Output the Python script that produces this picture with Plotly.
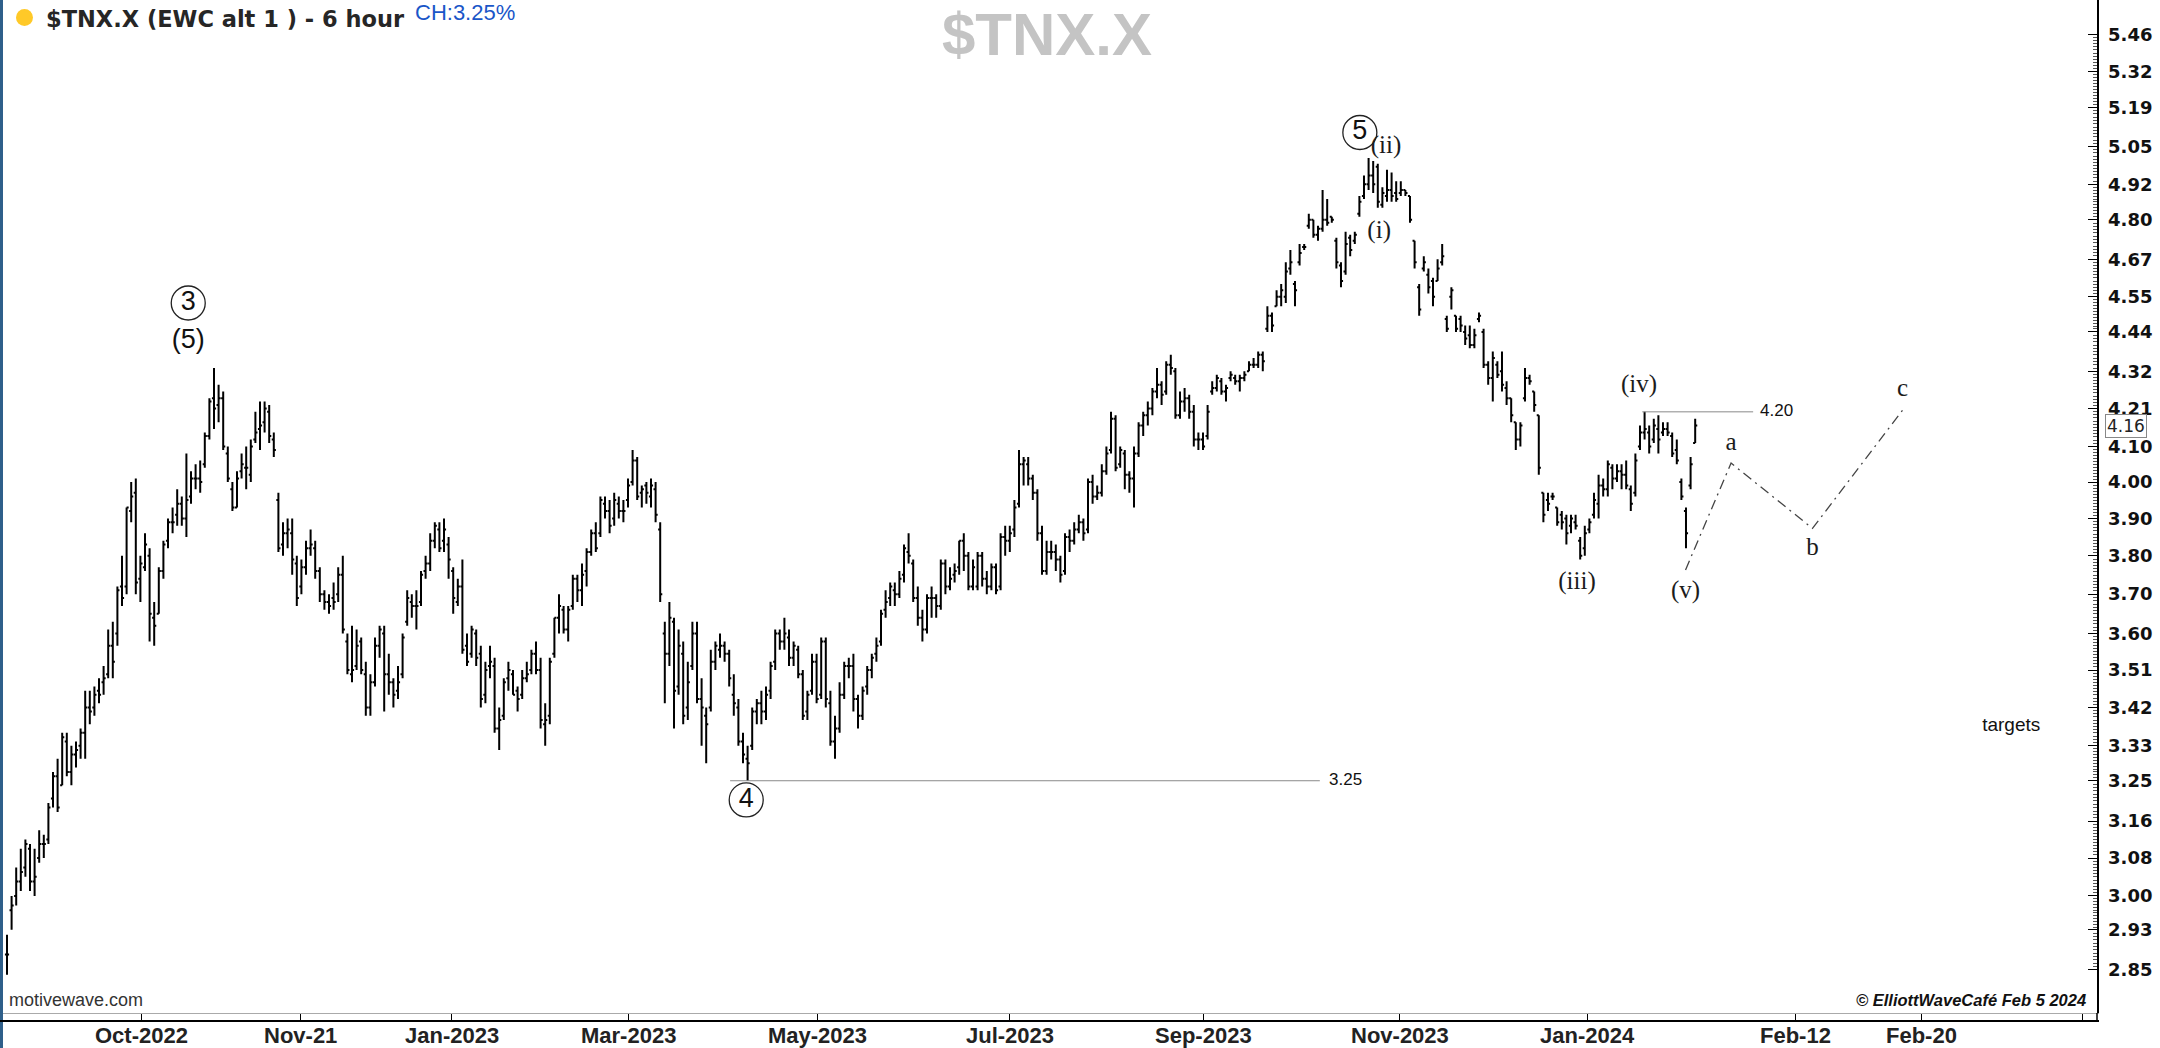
import math
import plotly.graph_objects as go

# ---------------- OHLC data (6-hour bars of $TNX.X) ----------------
opens = [
    2.88, 2.97, 3.00, 3.03, 3.06, 3.10, 3.03, 3.08, 3.11, 3.12,  # Aug-22
    3.21, 3.26, 3.24, 3.34, 3.27, 3.31, 3.33, 3.36, 3.42, 3.42, 3.46, 3.48, 3.50, 3.57, 3.60, 3.72, 3.72, 3.92, 3.97, 3.74, 3.77,  # Sep-22
    3.80, 3.64, 3.65, 3.76, 3.84, 3.89, 3.91, 3.94, 3.90, 3.96, 4.01, 4.01, 4.05, 4.13, 4.24, 4.22, 4.24, 4.08, 3.98, 3.93, 4.03,  # Oct-22
    4.04, 4.02, 4.12, 4.15, 4.17, 4.20, 4.12, 3.95, 3.83, 3.86, 3.86, 3.78, 3.72, 3.77, 3.82, 3.82, 3.76, 3.70, 3.68, 3.69, 3.70, 3.75,  # Nov-22
    3.58, 3.50, 3.52, 3.58, 3.50, 3.42, 3.48, 3.57, 3.60, 3.50, 3.48, 3.46, 3.50, 3.63, 3.68, 3.67, 3.68, 3.76, 3.78, 3.84, 3.87, 3.84,  # Dec-22
    3.83, 3.76, 3.68, 3.72, 3.57, 3.55, 3.60, 3.55, 3.45, 3.52, 3.52, 3.37, 3.40, 3.49, 3.50, 3.46, 3.45, 3.49, 3.51, 3.55,  # Jan-23
    3.51, 3.38, 3.40, 3.55, 3.64, 3.66, 3.61, 3.67, 3.74, 3.71, 3.76, 3.81, 3.86, 3.86, 3.94, 3.92, 3.90, 3.94, 3.92,  # Feb-23
    3.95, 4.00, 4.06, 3.97, 3.99, 3.96, 3.98, 3.87, 3.60, 3.55, 3.63, 3.47, 3.55, 3.42, 3.52, 3.60, 3.44, 3.40, 3.42, 3.53, 3.56, 3.57, 3.55,  # Mar-23
    3.45, 3.42, 3.34, 3.30, 3.33, 3.41, 3.43, 3.41, 3.46, 3.53, 3.60, 3.58, 3.59, 3.54, 3.56, 3.50, 3.41, 3.46, 3.53,  # Apr-23
    3.45, 3.58, 3.43, 3.34, 3.37, 3.45, 3.52, 3.52, 3.44, 3.40, 3.47, 3.51, 3.55, 3.58, 3.66, 3.69, 3.71, 3.70, 3.75, 3.81, 3.78, 3.69,  # May-23
    3.64, 3.61, 3.69, 3.69, 3.67, 3.78, 3.72, 3.75, 3.77, 3.84, 3.80, 3.72, 3.72, 3.80, 3.74, 3.72, 3.77, 3.72, 3.85,  # Jun-23
    3.84, 3.87, 3.94, 4.05, 4.05, 4.01, 3.97, 3.86, 3.76, 3.81, 3.81, 3.79, 3.76, 3.85, 3.84, 3.87, 3.89, 3.87, 4.00, 3.96,  # Jul-23
    3.97, 4.03, 4.09, 4.18, 4.05, 4.08, 4.02, 4.01, 4.08, 4.16, 4.19, 4.21, 4.26, 4.28, 4.26, 4.34, 4.32, 4.19, 4.23, 4.24, 4.20, 4.12, 4.12,  # Aug-23
    4.13, 4.26, 4.27, 4.29, 4.26, 4.30, 4.30, 4.29, 4.30, 4.32, 4.34, 4.34, 4.37, 4.45, 4.49, 4.52, 4.55, 4.55, 4.64, 4.59,  # Sep-23
    4.66, 4.71, 4.78, 4.80, 4.75, 4.77, 4.80, 4.81, 4.73, 4.65, 4.63, 4.74, 4.73, 4.82, 4.88, 4.92, 4.95, 4.98, 4.85, 4.88, 4.90, 4.89,  # Oct-23
    4.89, 4.90, 4.88, 4.73, 4.58, 4.64, 4.62, 4.60, 4.60, 4.66, 4.48, 4.55, 4.49, 4.48, 4.44, 4.43, 4.40, 4.48, 4.44, 4.34, 4.30,  # Nov-23
    4.34, 4.32, 4.27, 4.24, 4.17, 4.12, 4.24, 4.30, 4.26, 4.19, 3.97, 3.95, 3.96, 3.93, 3.91, 3.90, 3.88, 3.89, 3.84, 3.82,  # Dec-23
    3.87, 3.91, 3.94, 3.99, 3.98, 4.04, 4.01, 4.03, 4.02, 3.98, 3.97, 4.10, 4.14, 4.14, 4.12, 4.15, 4.14, 4.15, 4.13, 4.09, 4.00,  # Jan-24
    3.92, 3.99, 4.11,  # Feb-24
]
highs = [
    2.92, 3.00, 3.06, 3.10, 3.12, 3.11, 3.10, 3.14, 3.13, 3.20,
    3.27, 3.30, 3.36, 3.36, 3.33, 3.34, 3.37, 3.46, 3.46, 3.47, 3.49, 3.52, 3.61, 3.63, 3.72, 3.80, 3.93, 4.00, 4.01, 3.80, 3.86,
    3.82, 3.68, 3.77, 3.84, 3.90, 3.93, 3.98, 3.96, 4.08, 4.03, 4.05, 4.06, 4.14, 4.24, 4.33, 4.28, 4.26, 4.10, 4.00, 4.03, 4.08,
    4.10, 4.12, 4.20, 4.23, 4.23, 4.22, 4.14, 3.97, 3.89, 3.90, 3.90, 3.80, 3.79, 3.84, 3.87, 3.84, 3.77, 3.71, 3.70, 3.73, 3.77, 3.80,
    3.60, 3.62, 3.61, 3.59, 3.53, 3.50, 3.59, 3.62, 3.62, 3.55, 3.49, 3.52, 3.60, 3.71, 3.70, 3.71, 3.76, 3.80, 3.86, 3.89, 3.89, 3.90,
    3.85, 3.77, 3.74, 3.79, 3.60, 3.62, 3.61, 3.57, 3.53, 3.57, 3.54, 3.42, 3.49, 3.53, 3.51, 3.47, 3.51, 3.53, 3.56, 3.58,
    3.54, 3.43, 3.54, 3.64, 3.70, 3.67, 3.67, 3.75, 3.75, 3.78, 3.82, 3.87, 3.89, 3.96, 3.96, 3.95, 3.97, 3.96, 3.95,
    4.01, 4.09, 4.07, 3.99, 4.00, 4.01, 4.00, 3.89, 3.63, 3.68, 3.64, 3.61, 3.58, 3.53, 3.63, 3.63, 3.49, 3.42, 3.56, 3.58, 3.60, 3.58, 3.56,
    3.50, 3.44, 3.36, 3.33, 3.42, 3.44, 3.46, 3.47, 3.53, 3.61, 3.61, 3.64, 3.61, 3.58, 3.57, 3.51, 3.46, 3.55, 3.55,
    3.59, 3.59, 3.46, 3.40, 3.48, 3.53, 3.54, 3.55, 3.45, 3.47, 3.52, 3.55, 3.59, 3.66, 3.71, 3.73, 3.73, 3.76, 3.83, 3.86, 3.79, 3.72,
    3.66, 3.70, 3.72, 3.70, 3.79, 3.79, 3.77, 3.78, 3.84, 3.86, 3.81, 3.79, 3.81, 3.81, 3.76, 3.78, 3.78, 3.86, 3.88,
    3.88, 3.95, 4.09, 4.07, 4.07, 4.02, 3.98, 3.88, 3.84, 3.84, 3.83, 3.80, 3.86, 3.87, 3.89, 3.91, 3.90, 4.01, 4.02, 3.99,
    4.05, 4.10, 4.20, 4.19, 4.10, 4.09, 4.03, 4.10, 4.17, 4.20, 4.23, 4.27, 4.33, 4.29, 4.35, 4.37, 4.33, 4.26, 4.27, 4.25, 4.22, 4.14, 4.14,
    4.22, 4.29, 4.31, 4.30, 4.28, 4.32, 4.31, 4.31, 4.32, 4.35, 4.36, 4.38, 4.38, 4.52, 4.50, 4.57, 4.59, 4.66, 4.70, 4.60,
    4.72, 4.72, 4.82, 4.80, 4.78, 4.90, 4.87, 4.81, 4.74, 4.66, 4.76, 4.75, 4.76, 4.88, 4.95, 5.01, 5.00, 4.99, 4.91, 4.97, 4.96, 4.93,
    4.93, 4.90, 4.88, 4.73, 4.59, 4.68, 4.64, 4.61, 4.67, 4.72, 4.49, 4.58, 4.49, 4.49, 4.46, 4.46, 4.45, 4.50, 4.45, 4.35, 4.38,
    4.35, 4.38, 4.29, 4.24, 4.17, 4.17, 4.33, 4.31, 4.26, 4.19, 3.97, 3.97, 3.97, 3.93, 3.92, 3.91, 3.91, 3.91, 3.85, 3.88,
    3.90, 3.97, 4.02, 4.01, 4.06, 4.05, 4.05, 4.05, 4.06, 3.99, 4.08, 4.16, 4.20, 4.16, 4.18, 4.19, 4.17, 4.17, 4.14, 4.12, 4.01,
    3.93, 4.07, 4.18,
]
lows = [
    2.84, 2.93, 2.98, 3.01, 3.04, 3.01, 3.00, 3.07, 3.08, 3.11,
    3.19, 3.18, 3.24, 3.26, 3.24, 3.28, 3.30, 3.30, 3.38, 3.40, 3.43, 3.45, 3.49, 3.49, 3.57, 3.67, 3.70, 3.89, 3.70, 3.68, 3.76,
    3.58, 3.57, 3.65, 3.74, 3.82, 3.86, 3.88, 3.88, 3.85, 3.94, 3.98, 3.97, 4.04, 4.12, 4.15, 4.17, 4.09, 4.00, 3.92, 3.93, 4.01,
    3.98, 4.00, 4.11, 4.09, 4.14, 4.11, 4.07, 3.81, 3.80, 3.82, 3.75, 3.67, 3.70, 3.75, 3.80, 3.74, 3.68, 3.66, 3.65, 3.66, 3.68, 3.60,
    3.50, 3.48, 3.51, 3.50, 3.40, 3.40, 3.47, 3.54, 3.41, 3.45, 3.42, 3.44, 3.49, 3.62, 3.64, 3.61, 3.67, 3.74, 3.76, 3.82, 3.81, 3.81,
    3.74, 3.65, 3.67, 3.55, 3.52, 3.54, 3.52, 3.42, 3.43, 3.49, 3.36, 3.32, 3.39, 3.46, 3.45, 3.41, 3.44, 3.48, 3.50, 3.50,
    3.37, 3.33, 3.38, 3.54, 3.60, 3.60, 3.58, 3.66, 3.68, 3.67, 3.72, 3.80, 3.81, 3.85, 3.90, 3.86, 3.88, 3.90, 3.89,
    3.93, 3.99, 3.95, 3.93, 3.94, 3.93, 3.89, 3.68, 3.43, 3.52, 3.37, 3.45, 3.38, 3.39, 3.51, 3.43, 3.33, 3.29, 3.41, 3.51, 3.54, 3.53, 3.47,
    3.40, 3.33, 3.29, 3.25, 3.32, 3.38, 3.38, 3.39, 3.44, 3.51, 3.56, 3.56, 3.52, 3.52, 3.49, 3.39, 3.39, 3.45, 3.43,
    3.44, 3.42, 3.33, 3.30, 3.36, 3.44, 3.49, 3.41, 3.37, 3.39, 3.45, 3.49, 3.53, 3.57, 3.64, 3.67, 3.67, 3.69, 3.73, 3.78, 3.68, 3.62,
    3.58, 3.60, 3.64, 3.64, 3.66, 3.70, 3.71, 3.73, 3.75, 3.76, 3.71, 3.71, 3.71, 3.72, 3.70, 3.71, 3.70, 3.71, 3.80,
    3.81, 3.85, 3.93, 3.99, 3.99, 3.95, 3.84, 3.75, 3.75, 3.79, 3.76, 3.73, 3.75, 3.81, 3.83, 3.86, 3.84, 3.86, 3.94, 3.95,
    3.96, 4.02, 4.08, 4.03, 4.04, 3.98, 3.97, 3.93, 4.07, 4.13, 4.16, 4.19, 4.24, 4.22, 4.25, 4.31, 4.18, 4.18, 4.20, 4.18, 4.10, 4.09, 4.09,
    4.12, 4.25, 4.26, 4.25, 4.23, 4.29, 4.28, 4.26, 4.29, 4.32, 4.33, 4.33, 4.32, 4.44, 4.44, 4.52, 4.52, 4.53, 4.62, 4.52,
    4.65, 4.70, 4.77, 4.74, 4.73, 4.76, 4.78, 4.79, 4.64, 4.58, 4.62, 4.68, 4.72, 4.81, 4.87, 4.90, 4.89, 4.84, 4.84, 4.86, 4.86, 4.86,
    4.88, 4.88, 4.79, 4.64, 4.49, 4.63, 4.56, 4.52, 4.60, 4.65, 4.44, 4.51, 4.44, 4.44, 4.40, 4.39, 4.39, 4.47, 4.33, 4.28, 4.23,
    4.30, 4.26, 4.22, 4.17, 4.09, 4.10, 4.23, 4.28, 4.20, 4.02, 3.89, 3.92, 3.95, 3.88, 3.87, 3.83, 3.86, 3.87, 3.79, 3.80,
    3.86, 3.90, 3.90, 3.96, 3.96, 3.98, 4.00, 3.98, 3.98, 3.92, 3.96, 4.09, 4.12, 4.08, 4.11, 4.08, 4.13, 4.13, 4.07, 4.05, 3.95,
    3.82, 3.98, 4.11,
]
closes = [
    2.88, 2.98, 3.03, 3.05, 3.11, 3.03, 3.04, 3.11, 3.11, 3.19,
    3.26, 3.19, 3.35, 3.27, 3.31, 3.32, 3.36, 3.42, 3.41, 3.45, 3.45, 3.49, 3.57, 3.53, 3.71, 3.69, 3.93, 3.96, 3.73, 3.78, 3.83,
    3.65, 3.62, 3.76, 3.83, 3.89, 3.89, 3.94, 3.90, 3.95, 4.01, 4.01, 4.00, 4.13, 4.23, 4.21, 4.24, 4.10, 4.01, 3.93, 4.01, 4.05,
    4.04, 4.10, 4.14, 4.16, 4.21, 4.13, 4.09, 3.82, 3.86, 3.87, 3.79, 3.69, 3.77, 3.82, 3.83, 3.76, 3.70, 3.68, 3.67, 3.68, 3.75, 3.61,
    3.51, 3.51, 3.57, 3.51, 3.42, 3.48, 3.57, 3.61, 3.50, 3.48, 3.45, 3.48, 3.59, 3.69, 3.67, 3.67, 3.75, 3.78, 3.84, 3.88, 3.82, 3.87,
    3.79, 3.69, 3.72, 3.56, 3.53, 3.61, 3.54, 3.44, 3.51, 3.53, 3.37, 3.39, 3.48, 3.51, 3.45, 3.44, 3.49, 3.50, 3.55, 3.51,
    3.39, 3.39, 3.53, 3.64, 3.67, 3.61, 3.66, 3.74, 3.71, 3.75, 3.81, 3.86, 3.82, 3.95, 3.92, 3.88, 3.95, 3.92, 3.92,
    3.99, 4.06, 3.96, 3.98, 3.97, 3.99, 3.91, 3.70, 3.55, 3.64, 3.46, 3.57, 3.40, 3.48, 3.60, 3.44, 3.42, 3.38, 3.53, 3.57, 3.57, 3.55, 3.49,
    3.43, 3.34, 3.31, 3.29, 3.41, 3.43, 3.41, 3.45, 3.52, 3.60, 3.58, 3.60, 3.54, 3.57, 3.50, 3.40, 3.45, 3.53, 3.44,
    3.58, 3.44, 3.34, 3.37, 3.45, 3.52, 3.52, 3.44, 3.40, 3.46, 3.51, 3.54, 3.57, 3.65, 3.68, 3.72, 3.70, 3.74, 3.82, 3.80, 3.69, 3.64,
    3.61, 3.69, 3.69, 3.67, 3.78, 3.72, 3.74, 3.76, 3.84, 3.80, 3.72, 3.77, 3.80, 3.74, 3.72, 3.77, 3.71, 3.85, 3.84,
    3.86, 3.93, 4.05, 4.06, 4.01, 3.97, 3.86, 3.76, 3.81, 3.81, 3.79, 3.75, 3.85, 3.84, 3.87, 3.89, 3.86, 4.00, 3.96, 3.97,
    4.03, 4.08, 4.18, 4.04, 4.09, 4.02, 4.01, 4.08, 4.16, 4.19, 4.21, 4.26, 4.28, 4.25, 4.34, 4.33, 4.19, 4.23, 4.24, 4.20, 4.12, 4.12, 4.10,
    4.20, 4.27, 4.30, 4.26, 4.27, 4.31, 4.29, 4.30, 4.31, 4.34, 4.34, 4.37, 4.35, 4.49, 4.46, 4.55, 4.57, 4.63, 4.66, 4.57,
    4.69, 4.71, 4.80, 4.75, 4.77, 4.80, 4.79, 4.80, 4.66, 4.60, 4.72, 4.70, 4.75, 4.86, 4.92, 4.95, 4.92, 4.86, 4.89, 4.90, 4.88, 4.87,
    4.90, 4.89, 4.80, 4.66, 4.51, 4.66, 4.58, 4.55, 4.64, 4.68, 4.45, 4.57, 4.45, 4.46, 4.42, 4.40, 4.43, 4.49, 4.34, 4.30, 4.36,
    4.31, 4.28, 4.24, 4.19, 4.12, 4.16, 4.30, 4.29, 4.22, 4.04, 3.91, 3.94, 3.96, 3.89, 3.89, 3.86, 3.90, 3.88, 3.80, 3.86,
    3.89, 3.95, 3.99, 3.98, 4.05, 4.01, 4.03, 4.02, 3.99, 3.94, 4.06, 4.14, 4.15, 4.10, 4.16, 4.12, 4.15, 4.14, 4.08, 4.06, 3.96,
    3.86, 4.05, 4.16,
]
n_bars = len(closes)
assert len(opens) == len(highs) == len(lows) == n_bars
bar_index = list(range(n_bars))

# ---------------- axis labels ----------------
x_tick_pos = [29.3, 63.7, 96.7, 135.0, 176.3, 218.0, 260.2, 302.8, 343.5, 388.7, 416.3, 451.1]
x_tick_text = ["Oct-2022", "Nov-21", "Jan-2023", "Mar-2023", "May-2023", "Jul-2023",
               "Sep-2023", "Nov-2023", "Jan-2024", "Feb-12", "Feb-20", ""]
y_tick_text = ["5.46", "5.32", "5.19", "5.05", "4.92", "4.80", "4.67", "4.55", "4.44", "4.32",
               "4.21", "4.10", "4.00", "3.90", "3.80", "3.70", "3.60", "3.51", "3.42", "3.33",
               "3.25", "3.16", "3.08", "3.00", "2.93", "2.85"]
last_price = 4.16

# ---------------- Elliott wave labels ----------------
circle_text = ["3", "4", "5"]
circle_x = [39.4, 160.7, 294.1]
circle_y = [4.53, 3.207, 5.10]

sub_text = ["(5)"]
sub_x = [39.4]
sub_y = [4.41]

roman_text = ["(i)", "(ii)", "(iii)", "(iv)", "(v)", "a", "b", "c"]
roman_x = [298.3, 299.8, 341.3, 354.8, 364.9, 374.8, 392.5, 412.1]
roman_y = [4.76, 5.049, 3.729, 4.276, 3.705, 4.109, 3.818, 4.264]

proj_x = [364.9, 374.8, 392.5, 412.1]
proj_y = [3.763, 4.053, 3.873, 4.205]

level_low_value = 3.25
level_low_x = [157.2, 285.4]
level_high_value = 4.20
level_high_x = [355.5, 379.6]

targets_x, targets_y = 435.7, 3.376

# ---------------- geometry helpers (pixel -> paper) ----------------
W, H = 2160, 1048
ML, MR, MT, MB = 3, 63, 0, 35
PW, PH = W - ML - MR, H - MT - MB


def px(xp):
    return (xp - ML) / PW


def py(yp):
    return (MT + PH - yp) / PH


fig = go.Figure()

fig.add_trace(go.Ohlc(
    x=bar_index, open=opens, high=highs, low=lows, close=closes,
    increasing=dict(line=dict(color="#000000", width=2)),
    decreasing=dict(line=dict(color="#000000", width=2)),
    tickwidth=0.45, hoverinfo="skip", showlegend=False,
))

# horizontal levels
line_style = dict(color="#8a8a8a", width=1)
fig.add_trace(go.Scatter(x=level_low_x, y=[level_low_value] * 2, mode="lines",
                         line=line_style, hoverinfo="skip", showlegend=False))
fig.add_trace(go.Scatter(x=level_high_x, y=[level_high_value] * 2, mode="lines",
                         line=line_style, hoverinfo="skip", showlegend=False))
fig.add_trace(go.Scatter(
    x=[level_low_x[1] + 2, level_high_x[1] + 1.5],
    y=[level_low_value, level_high_value],
    text=["3.25", "4.20"], mode="text", textposition="middle right",
    textfont=dict(family="Liberation Sans, Arial", size=17, color="#111"),
    hoverinfo="skip", showlegend=False, cliponaxis=False))

# projection a-b-c
fig.add_trace(go.Scatter(x=proj_x, y=proj_y, mode="lines",
                         line=dict(color="#444", width=1.3, dash="10px,5px,2px,5px"),
                         hoverinfo="skip", showlegend=False))

# circled wave numbers
fig.add_trace(go.Scatter(
    x=circle_x, y=circle_y, text=circle_text, mode="markers+text",
    textposition="middle center",
    marker=dict(symbol="circle-open", size=34, color="#222", line=dict(width=1.3, color="#222")),
    textfont=dict(family="Liberation Sans, Arial", size=27, color="#111"),
    hoverinfo="skip", showlegend=False, cliponaxis=False))
fig.add_trace(go.Scatter(
    x=sub_x, y=sub_y, text=sub_text, mode="text", textposition="middle center",
    textfont=dict(family="Liberation Sans, Arial", size=27, color="#111"),
    hoverinfo="skip", showlegend=False, cliponaxis=False))
fig.add_trace(go.Scatter(
    x=roman_x, y=roman_y, text=roman_text, mode="text", textposition="middle center",
    textfont=dict(family="Liberation Serif, Times New Roman, serif", size=25, color="#1c1c1c"),
    hoverinfo="skip", showlegend=False, cliponaxis=False))
fig.add_trace(go.Scatter(
    x=[targets_x], y=[targets_y], text=["targets"], mode="text", textposition="middle center",
    textfont=dict(family="Liberation Sans, Arial", size=19, color="#111"),
    hoverinfo="skip", showlegend=False, cliponaxis=False))

# last-price pointer
fig.add_trace(go.Scatter(
    x=[455.2], y=[last_price], mode="markers",
    marker=dict(symbol="triangle-left", size=11, color="white", line=dict(color="#777", width=1)),
    hoverinfo="skip", showlegend=False, cliponaxis=False))

# minor ticks for the price ruler
major_vals = sorted(float(t) for t in y_tick_text)
minor_vals = []
for a, b in zip(major_vals[:-1], major_vals[1:]):
    for j in range(1, 12):
        minor_vals.append(a * (b / a) ** (j / 12))

annotations = [
    dict(xref="paper", yref="paper", x=px(44), y=py(19), xanchor="left", yanchor="middle",
         text="<b>$TNX.X (EWC alt 1 ) - 6 hour</b>", showarrow=False,
         font=dict(family="DejaVu Sans, Verdana", size=22.5, color="#262626")),
    dict(xref="paper", yref="paper", x=px(413), y=py(13), xanchor="left", yanchor="middle",
         text="CH:3.25%", showarrow=False,
         font=dict(family="Liberation Sans, Arial", size=22, color="#1a56c8")),
    dict(xref="paper", yref="paper", x=px(1047), y=py(34), xanchor="center", yanchor="middle",
         text="<b>$TNX.X</b>", showarrow=False,
         font=dict(family="Liberation Sans, Arial", size=60, color="#c4c4c4")),
    dict(xref="paper", yref="paper", x=px(7), y=py(1000), xanchor="left", yanchor="middle",
         text="motivewave.com", showarrow=False,
         font=dict(family="Liberation Sans, Arial", size=18, color="#333")),
    dict(xref="paper", yref="paper", x=px(2088), y=py(1000), xanchor="right", yanchor="middle",
         text="<b><i>© ElliottWaveCafé Feb 5 2024</i></b>", showarrow=False,
         font=dict(family="Liberation Sans, Arial", size=16.5, color="#111")),
    dict(xref="paper", yref="y", x=1, y=math.log10(last_price), xanchor="left", yanchor="middle",
         xshift=8, text="4.16", showarrow=False, bgcolor="white", bordercolor="#888",
         borderwidth=1, borderpad=1,
         font=dict(family="DejaVu Sans, Verdana", size=17, color="#222")),
]

# time-axis labels, set just under the axis band
for pos, lab in zip(x_tick_pos, x_tick_text):
    if lab:
        annotations.append(dict(
            xref="x", yref="paper", x=pos, y=py(1035), xanchor="center", yanchor="middle",
            text=f"<b>{lab}</b>", showarrow=False, borderpad=0,
            font=dict(family="Liberation Sans, Arial", size=22, color="#222")))

shapes = [
    # left window border
    dict(type="rect", xref="paper", yref="paper", x0=px(0), x1=px(3), y0=py(H), y1=py(0),
         fillcolor="#2f5f8a", line=dict(width=0)),
    # yellow status dot
    dict(type="circle", xref="paper", yref="paper", x0=px(16), x1=px(33), y0=py(26), y1=py(9),
         fillcolor="#ffc928", line=dict(width=0)),
    # time-axis base line
    dict(type="line", xref="paper", yref="paper", x0=px(0), x1=px(2099), y0=py(1021), y1=py(1021),
         line=dict(color="#000", width=2)),
    dict(type="line", xref="paper", yref="paper", x0=1, x1=1, y0=py(1021), y1=py(1013),
         line=dict(color="#000", width=1.5)),
]

fig.update_layout(
    width=W, height=H, autosize=False,
    margin=dict(l=ML, r=MR, t=MT, b=MB, pad=0),
    paper_bgcolor="white", plot_bgcolor="white",
    showlegend=False,
    annotations=annotations, shapes=shapes,
    xaxis=dict(
        range=[-0.87, 454.35], tickmode="array", tickvals=x_tick_pos,
        ticks="outside", ticklen=8, tickwidth=1, tickcolor="#000",
        showticklabels=False,
        showline=True, linecolor="#aaaaaa", linewidth=1,
        showgrid=False, zeroline=False, rangeslider=dict(visible=False),
    ),
    yaxis=dict(
        type="log", range=[0.44177, 0.74757], side="right",
        tickmode="array", tickvals=[float(t) for t in y_tick_text], ticktext=y_tick_text,
        ticks="inside", ticklen=9, tickwidth=1, tickcolor="#000",
        showline=True, linecolor="#000", linewidth=1.5,
        showgrid=False, zeroline=False,
        tickfont=dict(family="DejaVu Sans, Verdana", size=18, color="#111", weight="bold"),
        ticklabelstandoff=6,
        minor=dict(tickmode="array", tickvals=minor_vals, ticks="inside", ticklen=4,
                   tickcolor="#555", tickwidth=1, showgrid=False),
    ),
)

fig.write_html(
    "out.html",
    config={"displayModeBar": False, "staticPlot": True},
    post_script="document.body.style.margin='0';document.body.style.padding='0';"
                "document.body.style.overflow='hidden';",
)
